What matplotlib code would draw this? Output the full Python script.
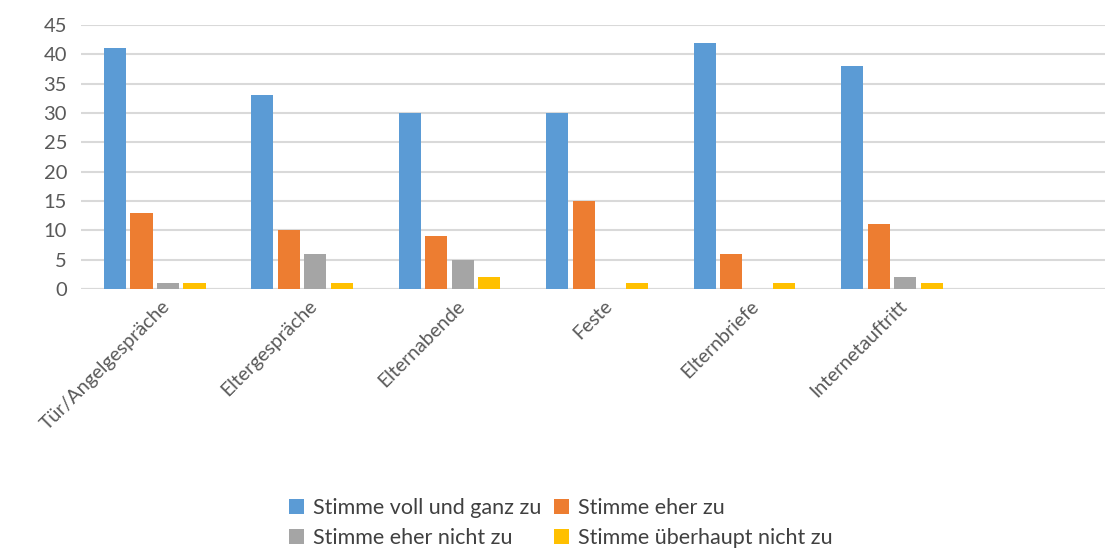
import matplotlib.pyplot as plt
import matplotlib.transforms as mtransforms
import numpy as np

plt.rcParams['font.family'] = ['Lato', 'DejaVu Sans']

kategorien = ['Tür/Angelgespräche', 'Eltergespräche', 'Elternabende',
              'Feste', 'Elternbriefe', 'Internetauftritt']
serien = ['Stimme voll und ganz zu', 'Stimme eher zu',
          'Stimme eher nicht zu', 'Stimme überhaupt nicht zu']
voll_und_ganz = [41, 33, 30, 30, 42, 38]
eher_zu = [13, 10, 9, 15, 6, 11]
eher_nicht = [1, 6, 5, 0, 0, 2]
ueberhaupt_nicht = [1, 1, 2, 1, 1, 1]
farben = ['#5B9BD5', '#ED7D31', '#A5A5A5', '#FFC000']

fig = plt.figure(figsize=(11.05, 5.49), dpi=100)
# plot area runs past the right edge, as in the cropped original
ax = fig.add_axes([81 / 1105, 260 / 549, 1032 / 1105, 264 / 549])

x = np.arange(len(kategorien))
offsets = [-0.27, -0.09, 0.09, 0.27]
for werte, off, farbe, name in zip(
        [voll_und_ganz, eher_zu, eher_nicht, ueberhaupt_nicht],
        offsets, farben, serien):
    ax.bar(x + off, werte, width=0.15, color=farbe, label=name, zorder=3)

ax.set_xlim(-0.5, 6.5)
ax.set_ylim(0, 45)
ax.set_yticks(range(0, 46, 5))
ax.yaxis.grid(True, color='#D9D9D9', linewidth=1.5, zorder=0)
for s in ax.spines.values():
    s.set_visible(False)
ax.axhline(0, color='#D9D9D9', linewidth=1.5, zorder=2)
ax.tick_params(axis='both', length=0, colors='#595959')
ax.tick_params(axis='y', labelsize=14.5, pad=10)
ax.tick_params(axis='x', pad=6)
ax.set_xticks(x)
ax.set_xticklabels(kategorien, rotation=45, ha='right', va='top',
                   rotation_mode='anchor', fontsize=14)
shift = mtransforms.ScaledTranslation(6 / 100, 0, fig.dpi_scale_trans)
for lab in ax.get_xticklabels():
    lab.set_transform(lab.get_transform() + shift)

# row-wise order like the original legend
h, l = ax.get_legend_handles_labels()
order = [0, 2, 1, 3]
ax.legend([h[i] for i in order], [l[i] for i in order],
          loc='upper center', bbox_to_anchor=(561 / 1105, 51 / 549),
          bbox_transform=fig.transFigure, ncol=2, frameon=False,
          fontsize=15.5, handlelength=0.7, handleheight=0.7,
          handletextpad=0.4, columnspacing=0.6, labelspacing=0.45,
          labelcolor='#404040', borderaxespad=0, borderpad=0)

plt.savefig('out.png', dpi=100)
